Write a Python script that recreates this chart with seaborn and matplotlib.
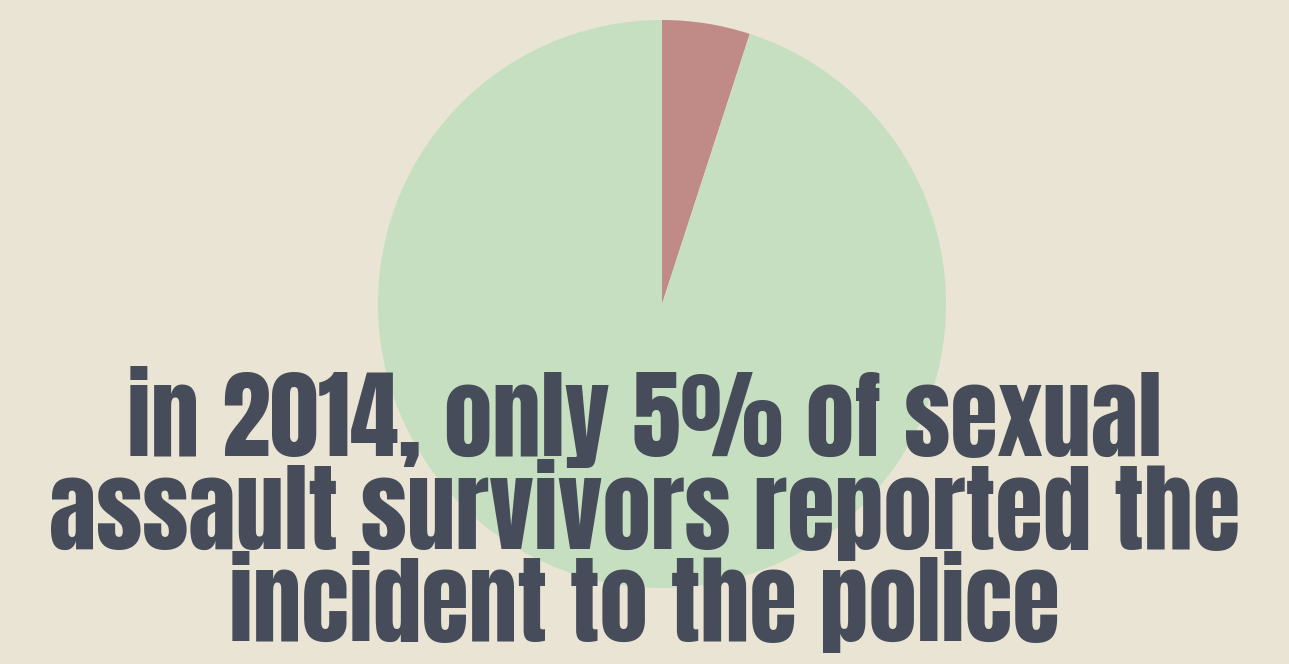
import matplotlib
matplotlib.use("Agg")
import matplotlib.pyplot as plt
import seaborn as sns

labels = ["Reported to police", "Not reported"]
shares = [5, 95]
colors = ["#C08B86", "#C6DFC1"]
lines = ["in 2014, only 5% of sexual",
         "assault survivors reported the",
         "incident to the police"]

bg = "#E9E4D3"
sns.set_theme(style="white")
plt.rcParams['font.family'] = ['Anton', 'DejaVu Sans']

fig = plt.figure(figsize=(12.89, 6.64), dpi=100, facecolor=bg)
ax = fig.add_axes([378/1289, 76/664, 568/1289, 568/664])
ax.set_facecolor(bg)
ax.pie(shares, colors=colors, startangle=90, counterclock=False, radius=1,
       wedgeprops=dict(linewidth=0))
ax.set_xlim(-1, 1)
ax.set_ylim(-1, 1)
ax.set_aspect('equal')
ax.axis('off')

baselines = [456, 549, 641]
for txt, yb in zip(lines, baselines):
    fig.text(0.5, 1 - yb/664, txt, ha='center', va='baseline',
             fontsize=70, color='#464C59')

fig.savefig("out.png", dpi=100, facecolor=bg)
